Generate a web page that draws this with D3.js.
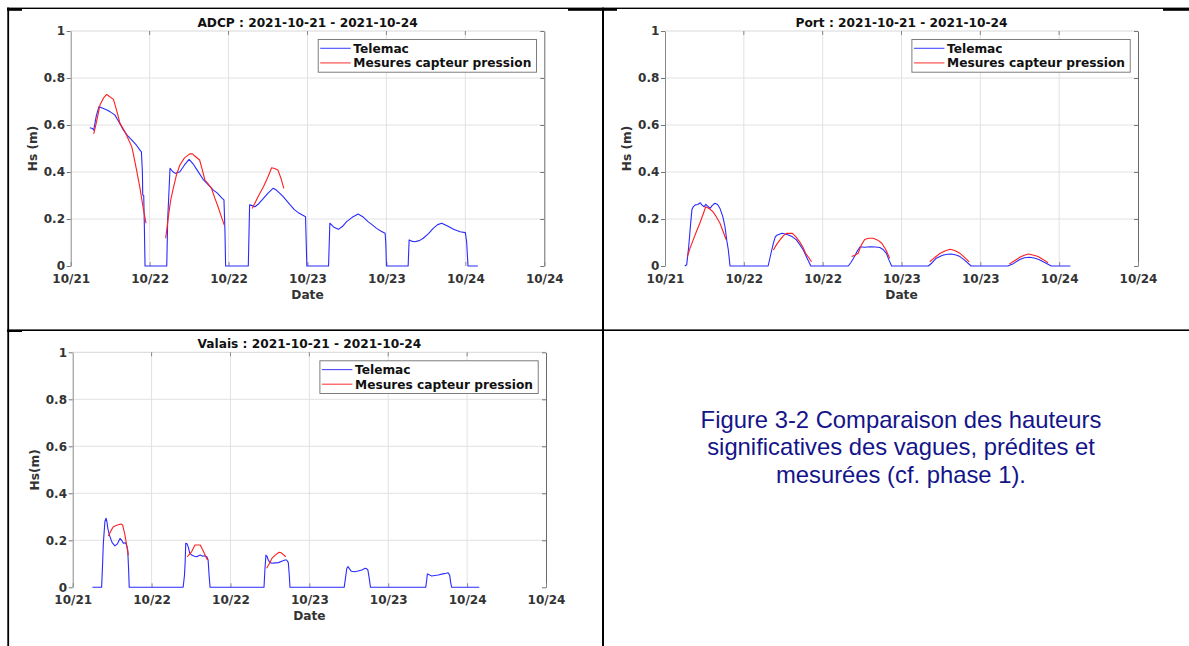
<!DOCTYPE html>
<html>
<head>
<meta charset="utf-8">
<script src="https://cdn.jsdelivr.net/npm/d3@7"></script>
<style>
  html, body { margin: 0; padding: 0; background: #fff; }
  svg { display: block; }
</style>
</head>
<body>
<svg id="fig" width="1189" height="646"></svg>
<script>
// Time axis in hours since 2021-10-21 00:00, ticks every 12 h
const tickHours = [0, 12, 24, 36, 48, 60, 72];
const tickLabels = ["10/21", "10/22", "10/22", "10/23", "10/23", "10/24", "10/24"];
const yTicks = [0, 0.2, 0.4, 0.6, 0.8, 1];
const seriesNames = ["Telemac", "Mesures capteur pression"];

// ADCP — Hs (m)
const adcpTelemac = [
  [2.9,0.588],[3.3,0.585],[3.5,0.578],[3.9,0.64],[4.3,0.678],[4.8,0.672],[5.5,0.664],[6.0,0.656],
  [6.7,0.643],[7.3,0.615],[8.0,0.579],[8.6,0.556],[9.3,0.536],[10.0,0.514],[10.5,0.494],[10.75,0.486],
  [10.9,0.40],[10.95,0.302],[11.1,0.30],[11.2,0.167],[11.3,0],[14.6,0],[14.75,0.2],[15.1,0.416],
  [15.5,0.402],[15.9,0.394],[16.6,0.401],[17.3,0.43],[18.0,0.454],[18.6,0.435],[19.2,0.409],[20.2,0.366],
  [21.0,0.343],[21.7,0.323],[22.3,0.31],[22.95,0.29],[23.3,0.281],[23.45,0.15],[23.55,0],[27.0,0],
  [27.2,0.26],[27.5,0.258],[28.0,0.252],[28.6,0.265],[29.3,0.288],[30.0,0.31],[30.8,0.331],[31.3,0.322],
  [31.8,0.309],[32.3,0.295],[33.3,0.262],[34.0,0.24],[34.6,0.227],[35.5,0.213],[35.7,0.21],[35.9,0],
  [39.2,0],[39.4,0.182],[40.0,0.165],[40.7,0.156],[41.3,0.168],[41.95,0.189],[42.8,0.207],[43.7,0.221],
  [44.4,0.21],[45.2,0.189],[46.0,0.172],[46.5,0.16],[47.2,0.148],[47.8,0.139],[47.9,0.1],[48.0,0],
  [51.3,0],[51.45,0.111],[51.8,0.106],[52.3,0.103],[53.0,0.108],[53.6,0.118],[54.4,0.138],[55.1,0.16],
  [55.8,0.176],[56.4,0.182],[57.3,0.17],[58.2,0.156],[59.2,0.146],[60.0,0.142],[60.2,0.1],[60.4,0],[61.9,0]
];
const adcpMesures = [
  [[3.5,0.562],[3.9,0.61],[4.45,0.685],[5.0,0.715],[5.47,0.73],[6.5,0.709],[7.0,0.66],[7.5,0.607],
   [8.25,0.571],[9.27,0.508],[9.5,0.48],[10.0,0.41],[10.5,0.337],[11.0,0.25],[11.45,0.182]],
  [[14.44,0.118],[14.85,0.21],[15.2,0.28],[15.6,0.331],[16.1,0.39],[16.6,0.43],[17.3,0.46],[18.1,0.477],
   [18.5,0.477],[19.0,0.465],[19.6,0.451],[20.0,0.41],[20.4,0.366],[20.9,0.35],[21.4,0.331],[21.9,0.29],
   [22.4,0.252],[22.9,0.21],[23.35,0.174]],
  [[27.6,0.245],[28.4,0.29],[29.3,0.337],[30.0,0.38],[30.55,0.418],[31.0,0.415],[31.5,0.409],[32.0,0.37],[32.4,0.33]]
];

// Port — Hs (m)
const portTelemac = [
  [3.0,0],[3.3,0.005],[3.6,0.08],[3.9,0.18],[4.1,0.24],[4.3,0.252],[4.6,0.26],[5.0,0.262],[5.37,0.269],
  [5.6,0.26],[5.96,0.252],[6.2,0.262],[6.5,0.255],[6.85,0.245],[7.2,0.258],[7.6,0.267],[8.0,0.262],
  [8.37,0.245],[8.8,0.21],[9.13,0.167],[9.4,0.11],[9.64,0.068],[9.9,0],[15.7,0],[16.1,0.05],[16.5,0.097],
  [16.8,0.125],[17.1,0.132],[17.4,0.135],[17.8,0.139],[18.3,0.136],[18.8,0.132],[19.4,0.124],[20.0,0.111],
  [20.5,0.092],[21.05,0.068],[21.6,0.035],[22.2,0],[27.9,0],[28.3,0.015],[28.7,0.033],[29.2,0.06],
  [29.7,0.082],[30.4,0.08],[31.2,0.082],[32.0,0.081],[32.7,0.079],[33.2,0.07],[33.7,0.054],[34.1,0.025],
  [34.5,0],[40.1,0],[40.7,0.015],[41.3,0.033],[42.0,0.043],[42.4,0.047],[43.0,0.05],[43.6,0.051],
  [44.3,0.047],[44.9,0.04],[45.6,0.025],[46.6,0],[52.2,0],[53.0,0.01],[54.0,0.028],[54.7,0.035],
  [55.5,0.037],[56.2,0.034],[56.9,0.028],[57.8,0.015],[58.8,0],[61.7,0]
];
const portMesures = [
  [[3.4,0.04],[3.8,0.075],[4.3,0.111],[4.8,0.148],[5.3,0.182],[5.8,0.22],[6.2,0.252],[6.7,0.245],
   [7.3,0.231],[7.8,0.21],[8.37,0.182],[8.8,0.15],[9.3,0.113]],
  [[16.5,0.068],[17.0,0.092],[17.5,0.111],[18.0,0.128],[18.5,0.139],[19.4,0.139],[19.9,0.125],[20.5,0.103],
   [21.0,0.08],[21.4,0.054],[21.9,0.035],[22.3,0.018]],
  [[28.4,0.04],[28.9,0.046],[29.4,0.054],[29.9,0.09],[30.4,0.113],[31.0,0.118],[31.7,0.118],[32.4,0.11],
   [33.0,0.097],[33.6,0.07],[34.2,0.033]],
  [[40.3,0.018],[41.1,0.037],[41.9,0.054],[42.6,0.064],[43.4,0.071],[44.1,0.066],[44.9,0.054],[45.6,0.037],[46.3,0.018]],
  [[52.4,0.008],[53.2,0.022],[54.0,0.037],[54.6,0.045],[55.3,0.051],[56.0,0.047],[56.8,0.04],[57.6,0.027],[58.3,0.014]]
];

// Valais — Hs (m)
const valaisTelemac = [
  [3.0,0],[4.4,0],[4.55,0.1],[4.66,0.187],[4.9,0.28],[5.07,0.294],[5.2,0.28],[5.35,0.25],[5.57,0.223],
  [6.0,0.19],[6.43,0.176],[6.8,0.185],[7.2,0.208],[7.45,0.2],[7.7,0.187],[8.0,0.19],[8.2,0.18],[8.37,0.159],
  [8.5,0.08],[8.6,0],[16.8,0],[17.0,0.05],[17.1,0.102],[17.2,0.187],[17.4,0.185],[17.6,0.17],[17.8,0.145],
  [18.1,0.137],[18.5,0.132],[18.9,0.13],[19.2,0.135],[19.4,0.137],[19.8,0.132],[20.1,0.134],[20.4,0.13],
  [20.6,0.116],[20.75,0.05],[20.9,0],[29.1,0],[29.25,0.08],[29.4,0.137],[29.6,0.13],[29.75,0.116],
  [30.0,0.106],[30.3,0.102],[30.8,0.104],[31.3,0.105],[31.9,0.112],[32.3,0.116],[32.55,0.116],[32.8,0.105],
  [32.95,0.05],[33.05,0],[41.3,0],[41.5,0.04],[41.7,0.081],[41.9,0.088],[42.1,0.078],[42.4,0.068],
  [42.9,0.066],[43.4,0.069],[44.0,0.074],[44.5,0.081],[44.7,0.079],[44.9,0.074],[45.1,0.04],[45.3,0],
  [53.7,0],[53.85,0.03],[53.95,0.057],[54.2,0.054],[54.6,0.048],[55.1,0.05],[55.6,0.052],[56.3,0.057],
  [56.8,0.06],[57.1,0.062],[57.35,0.052],[57.5,0.02],[57.65,0],[61.85,0]
];
const valaisMesures = [
  [[5.42,0.218],[5.8,0.24],[6.18,0.258],[6.7,0.264],[7.3,0.269],[7.6,0.265],[7.95,0.223],[8.2,0.18],[8.46,0.137]],
  [[17.43,0.13],[17.8,0.142],[18.1,0.152],[18.6,0.18],[19.0,0.18],[19.4,0.18],[19.9,0.152],[20.2,0.133],[20.5,0.116]],
  [[29.5,0.081],[29.9,0.1],[30.3,0.123],[30.8,0.137],[31.4,0.149],[31.7,0.147],[32.0,0.14],[32.4,0.13]]
];

const captionLines = [
  "Figure 3-2 Comparaison des hauteurs",
  "significatives des vagues, prédites et",
  "mesurées (cf. phase 1)."
];

// Panel frames (pixel boxes of each axes)
const panels = [
  { title: "ADCP : 2021-10-21 - 2021-10-24", ylabel: "Hs (m)",
    left: 70.7, right: 544.3, top: 31, bottom: 266, telemac: adcpTelemac, mesures: adcpMesures },
  { title: "Port : 2021-10-21 - 2021-10-24", ylabel: "Hs (m)",
    left: 665, right: 1138, top: 31, bottom: 266, telemac: portTelemac, mesures: portMesures },
  { title: "Valais : 2021-10-21 - 2021-10-24", ylabel: "Hs(m)",
    left: 72.7, right: 546, top: 352.3, bottom: 587.3, telemac: valaisTelemac, mesures: valaisMesures }
];

const FONT = "'DejaVu Sans', sans-serif";
const BLUE = "#2a2aff", RED = "#ff1e1e";
const svg = d3.select("#fig");

// Table frame around the figure cells
const frame = svg.append("g").attr("fill", "#000");
frame.append("rect").attr("x", 7).attr("y", 7.6).attr("width", 1182).attr("height", 1.4);
frame.append("rect").attr("x", 7.3).attr("y", 7.6).attr("width", 1.8).attr("height", 640);
frame.append("rect").attr("x", 602).attr("y", 7.6).attr("width", 2).attr("height", 640);
frame.append("rect").attr("x", 7).attr("y", 329.4).attr("width", 1182).attr("height", 1.6);
[[7, 22], [568, 617], [1163, 1189]].forEach(([a, b]) =>
  frame.append("rect").attr("x", a).attr("y", 9).attr("width", b - a).attr("height", 1.8));
frame.append("rect").attr("x", 7).attr("y", 330.5).attr("width", 15).attr("height", 1.5);

panels.forEach(p => {
  const x = d3.scaleLinear().domain([0, 72]).range([p.left, p.right]);
  const y = d3.scaleLinear().domain([0, 1]).range([p.bottom, p.top]);
  const g = svg.append("g");

  // grid
  g.append("g").selectAll("line").data(tickHours.slice(1, -1)).join("line")
    .attr("x1", d => x(d)).attr("x2", d => x(d)).attr("y1", p.top).attr("y2", p.bottom)
    .attr("stroke", "#e2e2e2").attr("stroke-width", 1);
  g.append("g").selectAll("line").data(yTicks.slice(1, -1)).join("line")
    .attr("x1", p.left).attr("x2", p.right).attr("y1", d => y(d)).attr("y2", d => y(d))
    .attr("stroke", "#e2e2e2").attr("stroke-width", 1);
  // top edge of the box
  g.append("line").attr("x1", p.left).attr("x2", p.right).attr("y1", p.top).attr("y2", p.top)
    .attr("stroke", "#d8d8d8");

  // left axis
  const yAxis = d3.axisLeft(y).tickValues(yTicks).tickFormat(d => String(d))
    .tickSizeInner(4).tickSizeOuter(0).tickPadding(1.7);
  const ya = g.append("g").attr("transform", `translate(${p.left},0)`).call(yAxis);
  ya.select(".domain").attr("stroke", "#8a8a8a");
  ya.selectAll(".tick line").attr("stroke", "#777");
  ya.selectAll("text").attr("font-family", FONT).attr("font-weight", "bold")
    .attr("font-size", 12).attr("fill", "#333");

  // right axis (ticks only)
  const ra = g.append("g").attr("transform", `translate(${p.right},0)`)
    .call(d3.axisRight(y).tickValues(yTicks).tickFormat("").tickSizeInner(-4).tickSizeOuter(0));
  ra.select(".domain").attr("stroke", "#6a6a6a");
  ra.selectAll(".tick line").attr("stroke", "#777");

  // bottom axis
  const xAxis = d3.axisBottom(x).tickValues(tickHours).tickFormat((d, i) => tickLabels[i])
    .tickSizeInner(-4).tickSizeOuter(0).tickPadding(8);
  const xa = g.append("g").attr("transform", `translate(0,${p.bottom})`).call(xAxis);
  xa.select(".domain").remove();
  xa.selectAll(".tick line").attr("stroke", "#888");
  xa.selectAll("text").attr("font-family", FONT).attr("font-weight", "bold")
    .attr("font-size", 12).attr("fill", "#333");

  // top ticks
  g.append("g").selectAll("line").data(tickHours.slice(1, -1)).join("line")
    .attr("x1", d => x(d)).attr("x2", d => x(d)).attr("y1", p.top).attr("y2", p.top + 4)
    .attr("stroke", "#888");

  // series
  const line = d3.line().x(d => x(d[0])).y(d => y(d[1]));
  g.append("path").datum(p.telemac).attr("d", line)
    .attr("fill", "none").attr("stroke", BLUE).attr("stroke-width", 1.1).attr("stroke-linejoin", "round");
  g.append("g").selectAll("path").data(p.mesures).join("path").attr("d", line)
    .attr("fill", "none").attr("stroke", RED).attr("stroke-width", 1.1).attr("stroke-linejoin", "round");

  // titles
  const cx = (p.left + p.right) / 2;
  g.append("text").attr("x", cx).attr("y", p.top - 4.4).attr("text-anchor", "middle")
    .attr("font-family", FONT).attr("font-weight", "bold").attr("font-size", 12.2).attr("fill", "#111")
    .text(p.title);
  g.append("text").attr("x", cx).attr("y", p.bottom + 33).attr("text-anchor", "middle")
    .attr("font-family", FONT).attr("font-weight", "bold").attr("font-size", 12.2).attr("fill", "#333")
    .text("Date");
  const ly = (p.top + p.bottom) / 2;
  g.append("text").attr("transform", `translate(${p.left - 34},${ly}) rotate(-90)`)
    .attr("text-anchor", "middle")
    .attr("font-family", FONT).attr("font-weight", "bold").attr("font-size", 12.2).attr("fill", "#333")
    .text(p.ylabel);

  // legend
  const bx = p.right - 226.6, by = p.top + 8;
  const lg = g.append("g");
  lg.append("rect").attr("x", bx + 0.5).attr("y", by + 0.5).attr("width", 218.3).attr("height", 32.7)
    .attr("fill", "#fff").attr("stroke", "#6f6f6f").attr("stroke-width", 0.9);
  seriesNames.forEach((name, i) => {
    const yy = by + 9.3 + i * 14.6;
    lg.append("line").attr("x1", bx + 2.5).attr("x2", bx + 33).attr("y1", yy).attr("y2", yy)
      .attr("stroke", i === 0 ? BLUE : RED).attr("stroke-width", 1.1).attr("opacity", 0.85);
    lg.append("text").attr("x", bx + 35.6).attr("y", yy + 4.4)
      .attr("font-family", FONT).attr("font-weight", "bold").attr("font-size", 12.2).attr("fill", "#111")
      .text(name);
  });
});

// caption in the fourth cell
svg.append("g").selectAll("text").data(captionLines).join("text")
  .attr("x", 901).attr("y", (d, i) => 427.5 + i * 27.6)
  .attr("text-anchor", "middle")
  .attr("font-family", "'Liberation Sans', Arial, sans-serif")
  .attr("font-size", 23.8).attr("fill", "#14148a")
  .text(d => d);
</script>
</body>
</html>
